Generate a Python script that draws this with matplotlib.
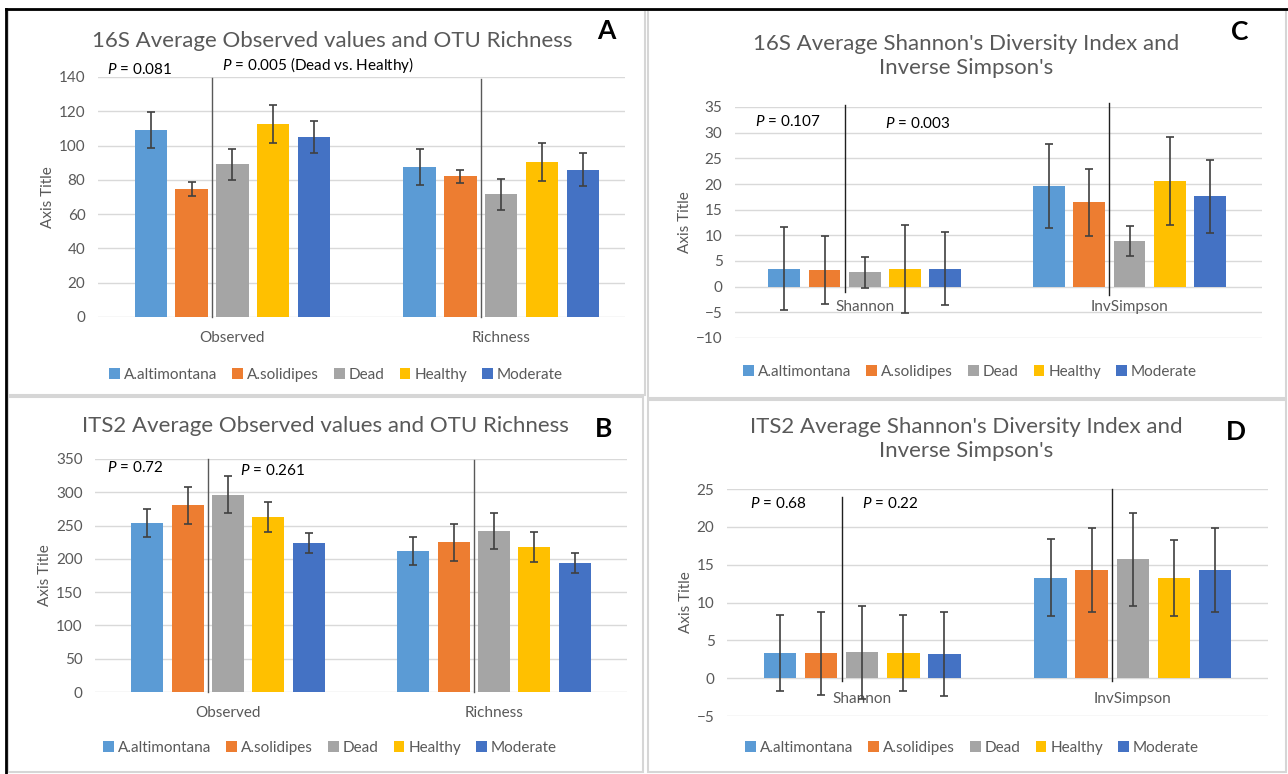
import matplotlib
matplotlib.use("Agg")
import matplotlib.pyplot as plt
from matplotlib.patches import Rectangle
from matplotlib.lines import Line2D
import numpy as np

plt.rcParams['font.family'] = ['Lato', 'DejaVu Sans']
plt.rcParams['mathtext.fontset'] = 'custom'
plt.rcParams['mathtext.it'] = 'Lato:italic'
plt.rcParams['mathtext.rm'] = 'Lato'

# groups and colours (Excel default palette)
groups = ["A.altimontana", "A.solidipes", "Dead", "Healthy", "Moderate"]
colors = ["#5B9BD5", "#ED7D31", "#A5A5A5", "#FFC000", "#4472C4"]

# 16S observed / richness
cats_obs = ["Observed", "Richness"]
s16_observed = [109, 74.5, 89, 112.5, 105]
s16_observed_err = [10.5, 4, 9, 11, 9.5]
s16_richness = [87.5, 82, 71.5, 90.5, 86]
s16_richness_err = [10.5, 4, 9, 11, 9.5]

# 16S shannon / inverse simpson
cats_div = ["Shannon", "InvSimpson"]
s16_shannon = [3.5, 3.3, 2.8, 3.5, 3.5]
s16_shannon_err = [8.1, 6.6, 3.0, 8.6, 7.1]
s16_invsimp = [19.6, 16.4, 8.9, 20.6, 17.6]
s16_invsimp_err = [8.1, 6.6, 3.0, 8.5, 7.1]

# ITS2 observed / richness
its_observed = [254.5, 280.5, 296.5, 262.5, 223.5]
its_observed_err = [21, 28, 27.5, 22.5, 15]
its_richness = [212.5, 225, 242, 218.5, 193.5]
its_richness_err = [21, 27.5, 27, 22.5, 15]

# ITS2 shannon / inverse simpson
its_shannon = [3.3, 3.3, 3.4, 3.3, 3.2]
its_shannon_err = [5.0, 5.5, 6.2, 5.0, 5.6]
its_invsimp = [13.3, 14.3, 15.7, 13.2, 14.3]
its_invsimp_err = [5.05, 5.55, 6.15, 5.0, 5.6]

W, H = 1288, 774
fig = plt.figure(figsize=(W / 100, H / 100), dpi=100)
fig.patch.set_facecolor("white")

GRAY = "#595959"
STEP = 0.152
BAR_W = 0.12


def px_axes(l, t, r, b):
    return fig.add_axes([l / W, 1 - b / H, (r - l) / W, (b - t) / H])


def fx(x):
    return x / W


def fy(y):
    return 1 - y / H


def draw_panel(ax, cats, vals1, err1, vals2, err2, ylim, yticks, xlim, sep_tops, line_col):
    vals = np.array([vals1, vals2])
    errs = np.array([err1, err2])
    x = np.arange(len(cats))
    for i, g in enumerate(groups):
        ax.bar(x + (i - 2) * STEP, vals[:, i], BAR_W, color=colors[i], zorder=2, label=g)
        ax.errorbar(x + (i - 2) * STEP, vals[:, i], yerr=errs[:, i], fmt="none",
                    ecolor="#404040", elinewidth=1.2, capsize=3, capthick=1.2, zorder=3)
    ax.set_ylim(*ylim)
    ax.set_xlim(*xlim)
    ax.set_yticks(yticks)
    ax.set_xticks([])
    ax.yaxis.grid(True, color="#D9D9D9", lw=1.0, zorder=0)
    ax.set_axisbelow(True)
    for s in ax.spines.values():
        s.set_visible(False)
    ax.tick_params(axis="y", length=0, labelsize=11, labelcolor=GRAY, pad=9)
    ax.set_ylabel("Axis Title", fontsize=11, color=GRAY, labelpad=3)
    for xi, c in zip(x, cats):
        ax.annotate(c, (xi, 0), xytext=(0, -15), textcoords="offset points",
                    ha="center", va="center", fontsize=11, color=GRAY,
                    annotation_clip=False, zorder=1)
    # separators between A.solidipes and Dead
    for xi, (y0, y1) in zip(x, sep_tops):
        ax.add_line(Line2D([xi - 0.5 * STEP] * 2, [y0, y1], color=line_col,
                           lw=1.0, clip_on=False, zorder=4))


def legend_at(ax, cx, cy):
    h, l = ax.get_legend_handles_labels()
    fig.legend(h, l, loc="center", bbox_to_anchor=(fx(cx), fy(cy)), ncol=5,
               frameon=False, fontsize=11, handlelength=0.7, handleheight=0.7,
               handletextpad=0.25, columnspacing=1.0, labelcolor=GRAY)


# panel frames
for (l, t, r, b) in [(8, 10, 645, 395), (648, 10, 1286, 398),
                     (8, 397, 643, 772), (648, 400, 1286, 772)]:
    fig.add_artist(Rectangle((fx(l), fy(b)), (r - l) / W, (b - t) / H,
                             transform=fig.transFigure, fill=False,
                             ec="#D6D6D6", lw=1.5))
fig.add_artist(Line2D([fx(6), 1], [fy(9), fy(9)], color="black", lw=2))
fig.add_artist(Line2D([fx(6), fx(6)], [fy(9), 0], color="black", lw=2))

# A
axA = px_axes(98, 77, 625, 317)
draw_panel(axA, cats_obs, s16_observed, s16_observed_err, s16_richness, s16_richness_err,
           (0, 140), range(0, 141, 20), (-0.5, 1.46), [(0, 139.4), (0, 139)], GRAY)
legend_at(axA, 336, 375)

# C
axC = px_axes(735, 107, 1262, 338)
draw_panel(axC, cats_div, s16_shannon, s16_shannon_err, s16_invsimp, s16_invsimp_err,
           (-10, 35), range(-10, 36, 5), (-0.49, 1.5), [(-1, 35.4), (-1.6, 35.8)], "#202020")
legend_at(axC, 970, 372)

# B
axB = px_axes(95, 459, 627, 692)
draw_panel(axB, cats_obs, its_observed, its_observed_err, its_richness, its_richness_err,
           (0, 350), range(0, 351, 50), (-0.5, 1.5), [(0, 349.6), (0, 348)], GRAY)
legend_at(axB, 330, 748)

# D
axD = px_axes(727, 489, 1268, 716)
draw_panel(axD, cats_div, its_shannon, its_shannon_err, its_invsimp, its_invsimp_err,
           (-5, 25), range(-5, 26, 5), (-0.5, 1.5), [(-0.4, 24), (-0.4, 25)], "#202020")
legend_at(axD, 972, 748)

# titles
title_kw = dict(ha="center", va="center", fontsize=16, color=GRAY, linespacing=1.3)
fig.text(fx(332), fy(41), "16S Average Observed values and OTU Richness", **title_kw)
fig.text(fx(966), fy(56), "16S Average Shannon's Diversity Index and\nInverse Simpson's", **title_kw)
fig.text(fx(325), fy(426), "ITS2 Average Observed values and OTU Richness", **title_kw)
fig.text(fx(966), fy(439), "ITS2 Average Shannon's Diversity Index and\nInverse Simpson's", **title_kw)

# panel letters
letter_kw = dict(ha="center", va="center", fontsize=19, fontweight="bold", color="black")
fig.text(fx(606), fy(31), "A", **letter_kw)
fig.text(fx(1240), fy(32), "C", **letter_kw)
fig.text(fx(604), fy(429), "B", **letter_kw)
fig.text(fx(1236), fy(432), "D", **letter_kw)

# p-values
p_kw = dict(ha="left", va="center", fontsize=11, color="black")
fig.text(fx(107), fy(70), r"$\it{P}$ = 0.081", **p_kw)
fig.text(fx(222), fy(65), r"$\it{P}$ = 0.005 (Dead vs. Healthy)", **p_kw)
fig.text(fx(755), fy(122), r"$\it{P}$ = 0.107", **p_kw)
fig.text(fx(885), fy(124), r"$\it{P}$ = 0.003", **p_kw)
fig.text(fx(107), fy(467), r"$\it{P}$ = 0.72", **p_kw)
fig.text(fx(240), fy(470), r"$\it{P}$ = 0.261", **p_kw)
fig.text(fx(750), fy(503), r"$\it{P}$ = 0.68", **p_kw)
fig.text(fx(862), fy(503), r"$\it{P}$ = 0.22", **p_kw)

fig.savefig("out.png", dpi=100)
